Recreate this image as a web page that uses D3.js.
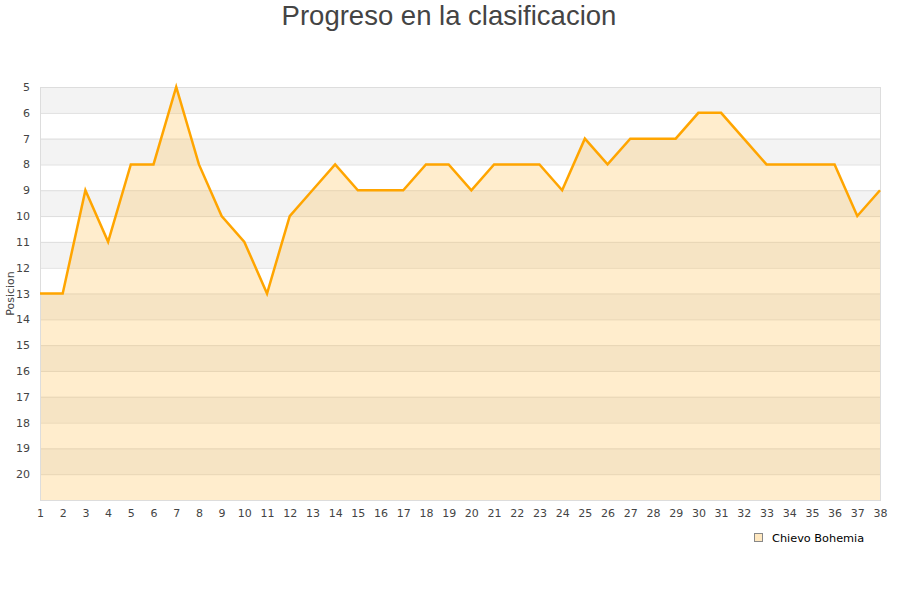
<!DOCTYPE html>
<html>
<head>
<meta charset="utf-8">
<script src="https://cdn.jsdelivr.net/npm/d3@7"></script>
<style>
  body { margin: 0; background: #fff; }
  text { font-family: "DejaVu Sans", sans-serif; fill: #444; }
</style>
</head>
<body>
<script>
// jornadas (rounds) and league position after each one
var rounds = d3.range(1, 39);
var positions = [13, 13, 9, 11, 8, 8, 5, 8, 10, 11, 13, 10, 9, 8, 9, 9, 9, 8, 8, 9,
                 8, 8, 8, 9, 7, 8, 7, 7, 7, 6, 6, 7, 8, 8, 8, 8, 10, 9];
var yTicks = d3.range(5, 21);
var teamName = "Chievo Bohemia";

var width = 900, height = 600;
var margin = {top: 87, right: 20, bottom: 100, left: 40};

var svg = d3.select("body").append("svg")
  .attr("width", width).attr("height", height);

var x = d3.scaleLinear().domain([1, 38]).range([margin.left, width - margin.right]);
var y = d3.scaleLinear().domain([5, 21]).range([margin.top, height - margin.bottom]);

// alternating bands
svg.append("g").selectAll("rect")
  .data(d3.range(5, 21))
  .enter().append("rect")
  .attr("x", x(1))
  .attr("y", function(d) { return y(d); })
  .attr("width", x(38) - x(1))
  .attr("height", function(d) { return y(d + 1) - y(d); })
  .attr("fill", function(d) { return (d % 2 == 1) ? "#f3f3f3" : "#ffffff"; });

// gridlines
svg.append("g").selectAll("line")
  .data(yTicks)
  .enter().append("line")
  .attr("x1", x(1)).attr("x2", x(38))
  .attr("y1", function(d) { return y(d) + 0.5; })
  .attr("y2", function(d) { return y(d) + 0.5; })
  .attr("stroke", "#dddddd");

// area under the line
var pts = rounds.map(function(r, i) { return [r, positions[i]]; });
var area = d3.area()
  .x(function(d) { return x(d[0]); })
  .y0(y(21))
  .y1(function(d) { return y(d[1]); });
svg.append("path")
  .datum(pts)
  .attr("d", area)
  .attr("fill", "rgba(255,196,90,0.3)");

// plot frame
svg.append("rect")
  .attr("x", x(1) + 0.5).attr("y", y(5) + 0.5)
  .attr("width", x(38) - x(1)).attr("height", y(21) - y(5))
  .attr("fill", "none").attr("stroke", "#dddddd");

var line = d3.line()
  .x(function(d) { return x(d[0]); })
  .y(function(d) { return y(d[1]); });
svg.append("path")
  .datum(pts)
  .attr("d", line)
  .attr("fill", "none")
  .attr("stroke", "#ffa500")
  .attr("stroke-width", 2.5)
  .attr("stroke-linejoin", "miter");

// y axis labels
var yAxis = d3.axisLeft(y).tickValues(yTicks).tickSize(0).tickPadding(10);
var gy = svg.append("g").attr("transform", "translate(" + x(1) + ",0)").call(yAxis);
gy.select(".domain").remove();
gy.selectAll("text").style("font-size", "11px").style("font-family", "DejaVu Sans").attr("fill", "#444");

// x axis labels
var xAxis = d3.axisBottom(x).tickValues(rounds).tickSize(0).tickPadding(9);
var gx = svg.append("g").attr("transform", "translate(0," + y(21) + ")").call(xAxis);
gx.select(".domain").remove();
gx.selectAll("text").style("font-size", "11px").style("font-family", "DejaVu Sans").attr("fill", "#444");

// axis title
svg.append("text")
  .attr("transform", "translate(14," + ((y(5) + y(21)) / 2) + ") rotate(-90)")
  .attr("text-anchor", "middle")
  .style("font-size", "11px")
  .text("Posicion");

// title
svg.append("text")
  .attr("x", width / 2 - 1).attr("y", 25)
  .attr("text-anchor", "middle")
  .style("font-family", "Liberation Sans, Arial, sans-serif")
  .style("font-size", "27.5px")
  .text("Progreso en la clasificacion");

// legend
var lg = svg.append("g").attr("transform", "translate(754,533)");
lg.append("rect")
  .attr("x", 0.5).attr("y", 0.5).attr("width", 8).attr("height", 8)
  .attr("fill", "#ffe8c0").attr("stroke", "#888");
lg.append("text")
  .attr("x", 18).attr("y", 8.5)
  .style("font-size", "11.3px")
  .style("fill", "#000")
  .text(teamName);
</script>
</body>
</html>
